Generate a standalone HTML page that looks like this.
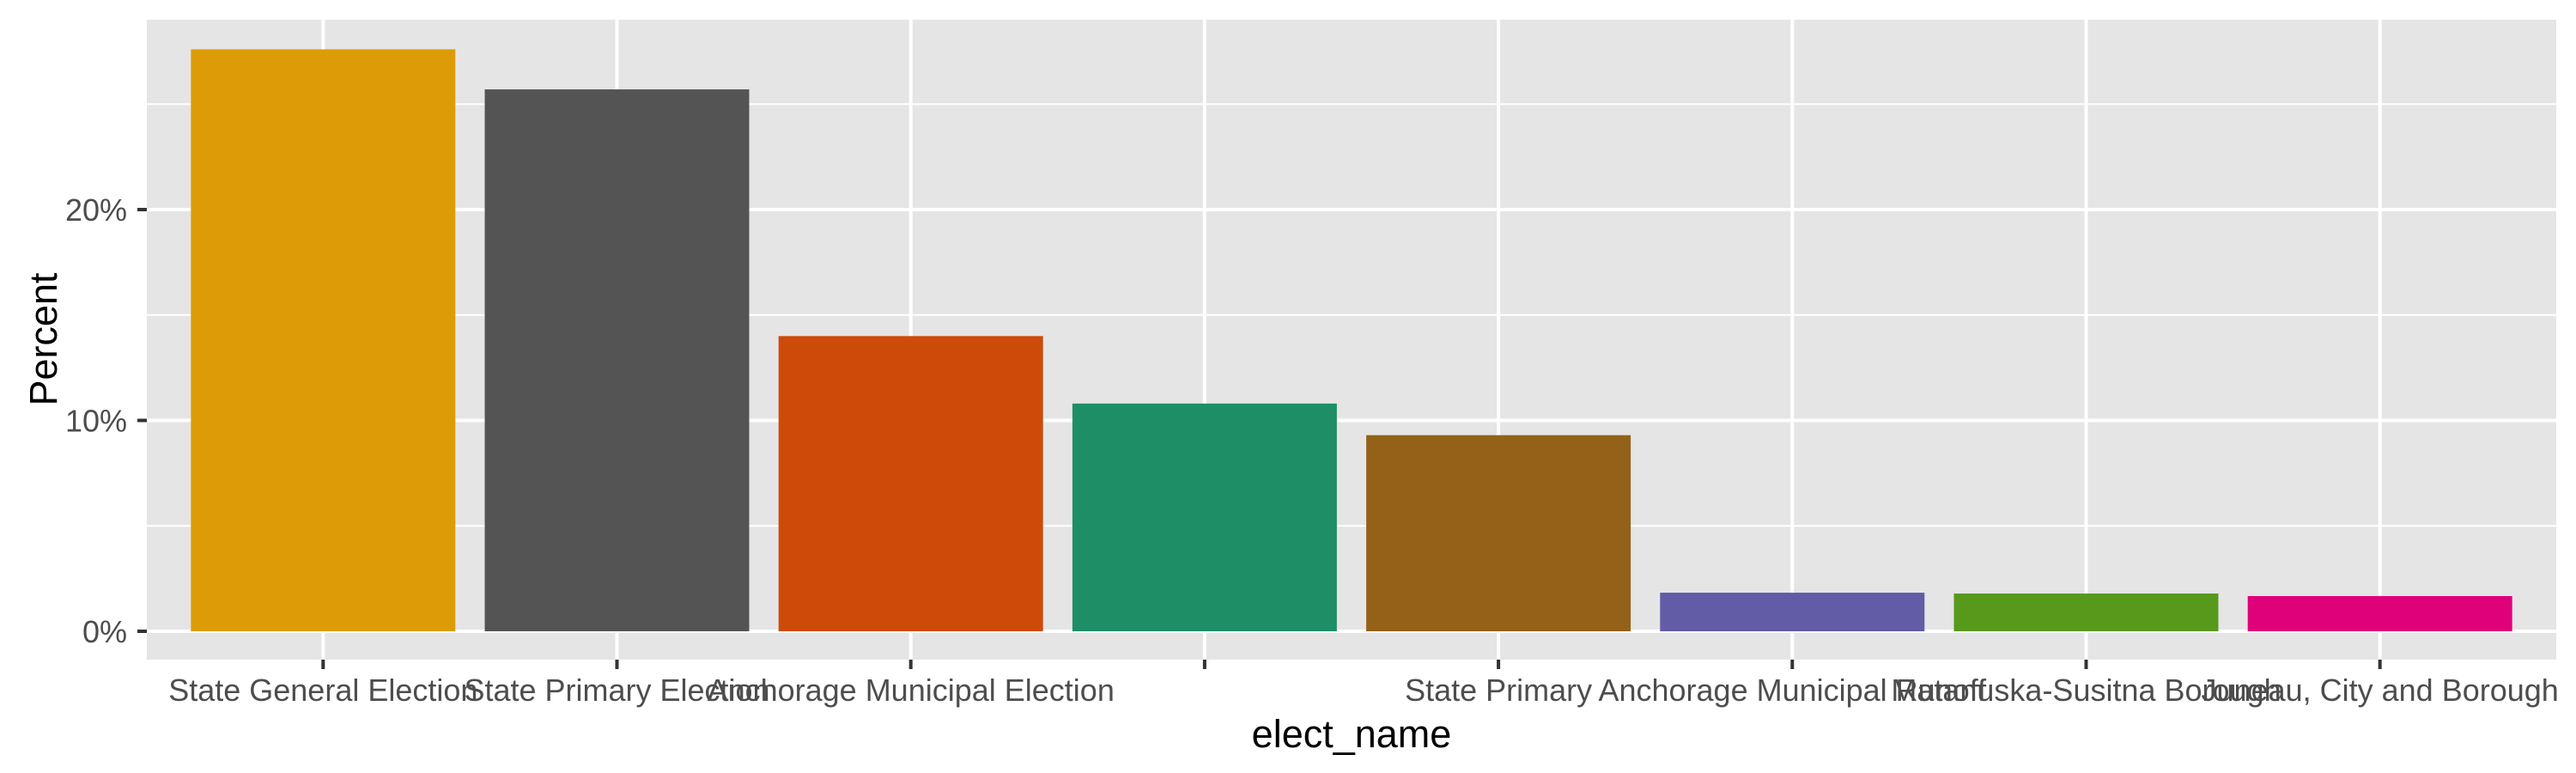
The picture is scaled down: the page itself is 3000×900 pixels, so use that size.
<!DOCTYPE html>
<html><head><meta charset="utf-8"><style>body{margin:0;background:#fff}svg{display:block}text{font-family:"Liberation Sans",Arial,sans-serif}</style></head>
<body>
<svg id="chart" width="3000" height="900" xmlns="http://www.w3.org/2000/svg">
<rect x="0" y="0" width="3000" height="900" fill="#fff"/>
<rect x="171" y="23" width="2806" height="745" fill="#e5e5e5"/>
<g id="grid"></g><g id="bars"></g><g id="axes"></g>
<text x="1574" y="870" font-size="45" text-anchor="middle" fill="#000">elect_name</text>
<text transform="translate(66,395) rotate(-90)" font-size="45" text-anchor="middle" fill="#000">Percent</text>
</svg>
<script>
const categories = ["State General Election","State Primary Election","Anchorage Municipal Election","","State Primary","Anchorage Municipal Runoff","Matanuska-Susitna Borough","Juneau, City and Borough"];
const values = [27.6, 25.7, 14.0, 10.8, 9.3, 1.83, 1.79, 1.67];
const colors = ["#DD9C07","#545454","#CE4A09","#1E8E67","#946118","#625BA6","#56991B","#DE017A"];
const yTicks = [0, 10, 20];
const yTickLabels = ["0%","10%","20%"];
const yMinor = [5, 15, 25];

const NS="http://www.w3.org/2000/svg";
const L=171,R=2977,T=23,B=768;
const y0=735, pxPer=24.55;
function yS(v){return y0 - v*pxPer;}
const band=(R-L)/(categories.length-1+1.2);
function xS(i){return L + band*(0.6+i);}
function mk(tag,attrs,parent){const e=document.createElementNS(NS,tag);for(const k in attrs)e.setAttribute(k,attrs[k]);parent.appendChild(e);return e;}
const grid=document.getElementById('grid'),bars=document.getElementById('bars'),axes=document.getElementById('axes');
yMinor.forEach(v=>{const l=mk('line',{x1:L,x2:R,y1:yS(v),y2:yS(v),stroke:'#fff','stroke-width':2},grid);

});
yTicks.forEach((v,i)=>{const l=mk('line',{x1:L,x2:R,y1:yS(v),y2:yS(v),stroke:'#fff','stroke-width':4},grid);


const t=mk('line',{x1:160,x2:L,y1:yS(v),y2:yS(v),stroke:'#333','stroke-width':4},axes);


const tx=mk('text',{x:148,y:yS(v)+13,'font-size':36,'text-anchor':'end',fill:'#4d4d4d'},axes);
tx.textContent=yTickLabels[i];

});
categories.forEach((c,i)=>{const x=xS(i);
const g=mk('line',{x1:x,x2:x,y1:T,y2:B,stroke:'#fff','stroke-width':4},grid);


const w=band*0.9;
const b=mk('rect',{x:x-w/2,y:yS(values[i]),width:w,height:yS(0)-yS(values[i]),fill:colors[i]},bars);


const t=mk('line',{x1:x,x2:x,y1:B,y2:779,stroke:'#333','stroke-width':4},axes);


const tx=mk('text',{x:x,y:816,'font-size':36,'text-anchor':'middle',fill:'#4d4d4d'},axes);
tx.textContent=c;

});
</script>
</body></html>
